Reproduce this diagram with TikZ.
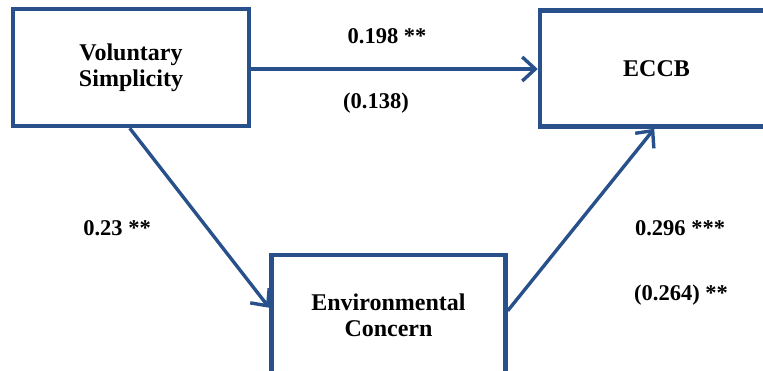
\documentclass[tikz,border=0pt]{standalone}
\usepackage{fontspec}
\setmainfont{Liberation Serif}
\usetikzlibrary{arrows.meta,calc}
\definecolor{pathblue}{RGB}{40,80,138}
\tikzset{
  varbox/.style={draw=pathblue, line width=4.5pt, fill=white, rectangle,
    align=center, inner sep=0pt, font=\fontsize{24}{26}\selectfont\bfseries},
  effect/.style={draw=pathblue, line width=3.4pt,
    -{Straight Barb[length=13pt,width=24pt]}},
  coef/.style={font=\fontsize{22.5}{26}\selectfont\bfseries, inner sep=0pt}
}
\begin{document}
\begin{tikzpicture}[x=1pt,y=-1pt]
  \useasboundingbox (0,0) rectangle (763,371);
  \begin{scope}
    \clip (0,0) rectangle (763,371);
    % variables
    \node[varbox, minimum width=236pt, minimum height=117pt] (vs) at (131,67.5)
      {Voluntary\\Simplicity};
    \node[varbox, minimum width=233pt, minimum height=116pt] (eccb) at (656.5,68.5)
      {ECCB};
    \node[varbox, minimum width=234pt, minimum height=120pt] (ec) at (388.5,315)
      {Environmental\\Concern};
    % paths
    \draw[effect] (vs.east |- 0,69) -- (eccb.west |- 0,69);
    \draw[effect] ($(vs.south west)+(119,0)$) -- ($(ec.north west)+(0,55)$);
    \draw[effect] ($(ec.north east)+(0,58)$) -- ($(eccb.south west)+(116.5,0)$);
  \end{scope}
  % path coefficients
  \node[coef] (c1) at (387,36) {0.198 **};
  \node[coef] (c2) at (376,103) {(0.138)};
  \node[coef] (c3) at (117,228) {0.23 **};
  \node[coef] (c4) at (680,228) {0.296 ***};
  \node[coef] (c5) at (681,295) {(0.264) **};
\end{tikzpicture}
\end{document}
